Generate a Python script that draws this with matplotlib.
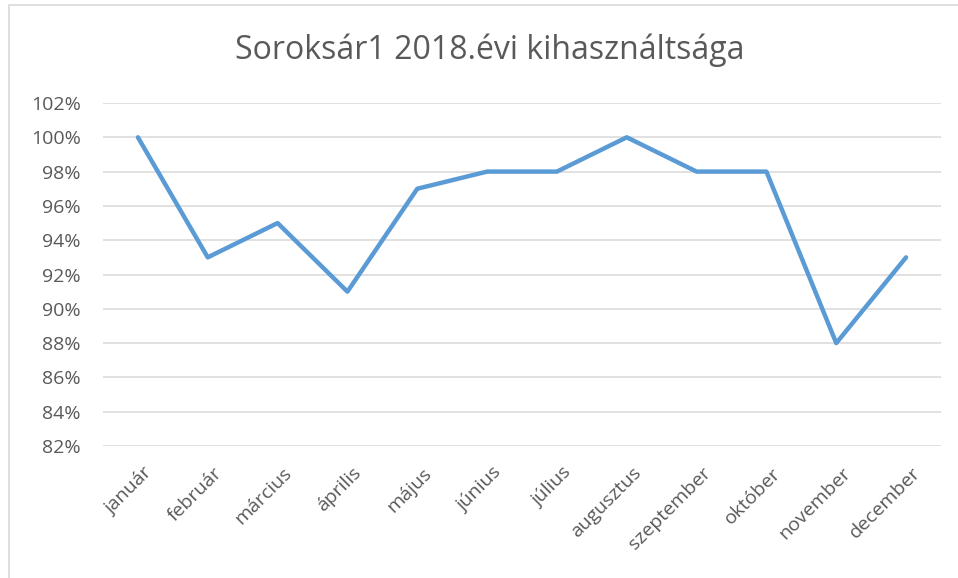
import matplotlib.pyplot as plt
from matplotlib.patches import Rectangle
from matplotlib.ticker import FuncFormatter
from matplotlib.transforms import ScaledTranslation

plt.rcParams['font.family'] = ['Open Sans', 'DejaVu Sans']

honapok = ['január', 'február', 'március', 'április', 'május', 'június',
           'július', 'augusztus', 'szeptember', 'október', 'november', 'december']
kihasznaltsag = [100, 93, 95, 91, 97, 98, 98, 100, 98, 98, 88, 93]
y_ticks = list(range(82, 103, 2))

fig = plt.figure(figsize=(9.58, 5.78), dpi=100)
ax = fig.add_axes([103 / 958, 1 - 446 / 578, (941 - 103) / 958, (446 - 103) / 578])

# chart border (only top/left visible in the screenshot)
fig.patches.append(Rectangle((9 / 958, -0.1), 1.2, 1 - 5 / 578 + 0.1,
                             transform=fig.transFigure, fill=False,
                             edgecolor='#d9d9d9', linewidth=1.2))

x = range(len(honapok))
ax.plot(x, kihasznaltsag, color='#5b9bd5', linewidth=3.2, solid_capstyle='round',
        solid_joinstyle='round', zorder=3)

ax.set_xlim(-0.5, len(honapok) - 0.5)
ax.set_ylim(82, 102)
ax.set_yticks(y_ticks)
ax.yaxis.set_major_formatter(FuncFormatter(lambda v, p: f'{v:.0f}%'))
ax.grid(axis='y', color='#d9d9d9', linewidth=1.1)
ax.set_axisbelow(True)
for s in ax.spines.values():
    s.set_visible(False)
ax.tick_params(axis='both', length=0, colors='#595959', labelsize=14)
ax.tick_params(axis='y', pad=16)

ax.set_xticks(list(x))
ax.set_xticklabels(honapok, rotation=45, ha='right', va='top', rotation_mode='anchor')
ax.tick_params(axis='x', pad=13)
eltolas = ScaledTranslation(5 / 100, 0, fig.dpi_scale_trans)
for lbl in ax.get_xticklabels():
    lbl.set_transform(lbl.get_transform() + eltolas)

fig.text(490 / 958, 1 - 50 / 578, 'Soroksár1 2018.évi kihasználtsága',
         ha='center', va='center', fontsize=23, color='#595959')

fig.savefig('out.png', dpi=100)
